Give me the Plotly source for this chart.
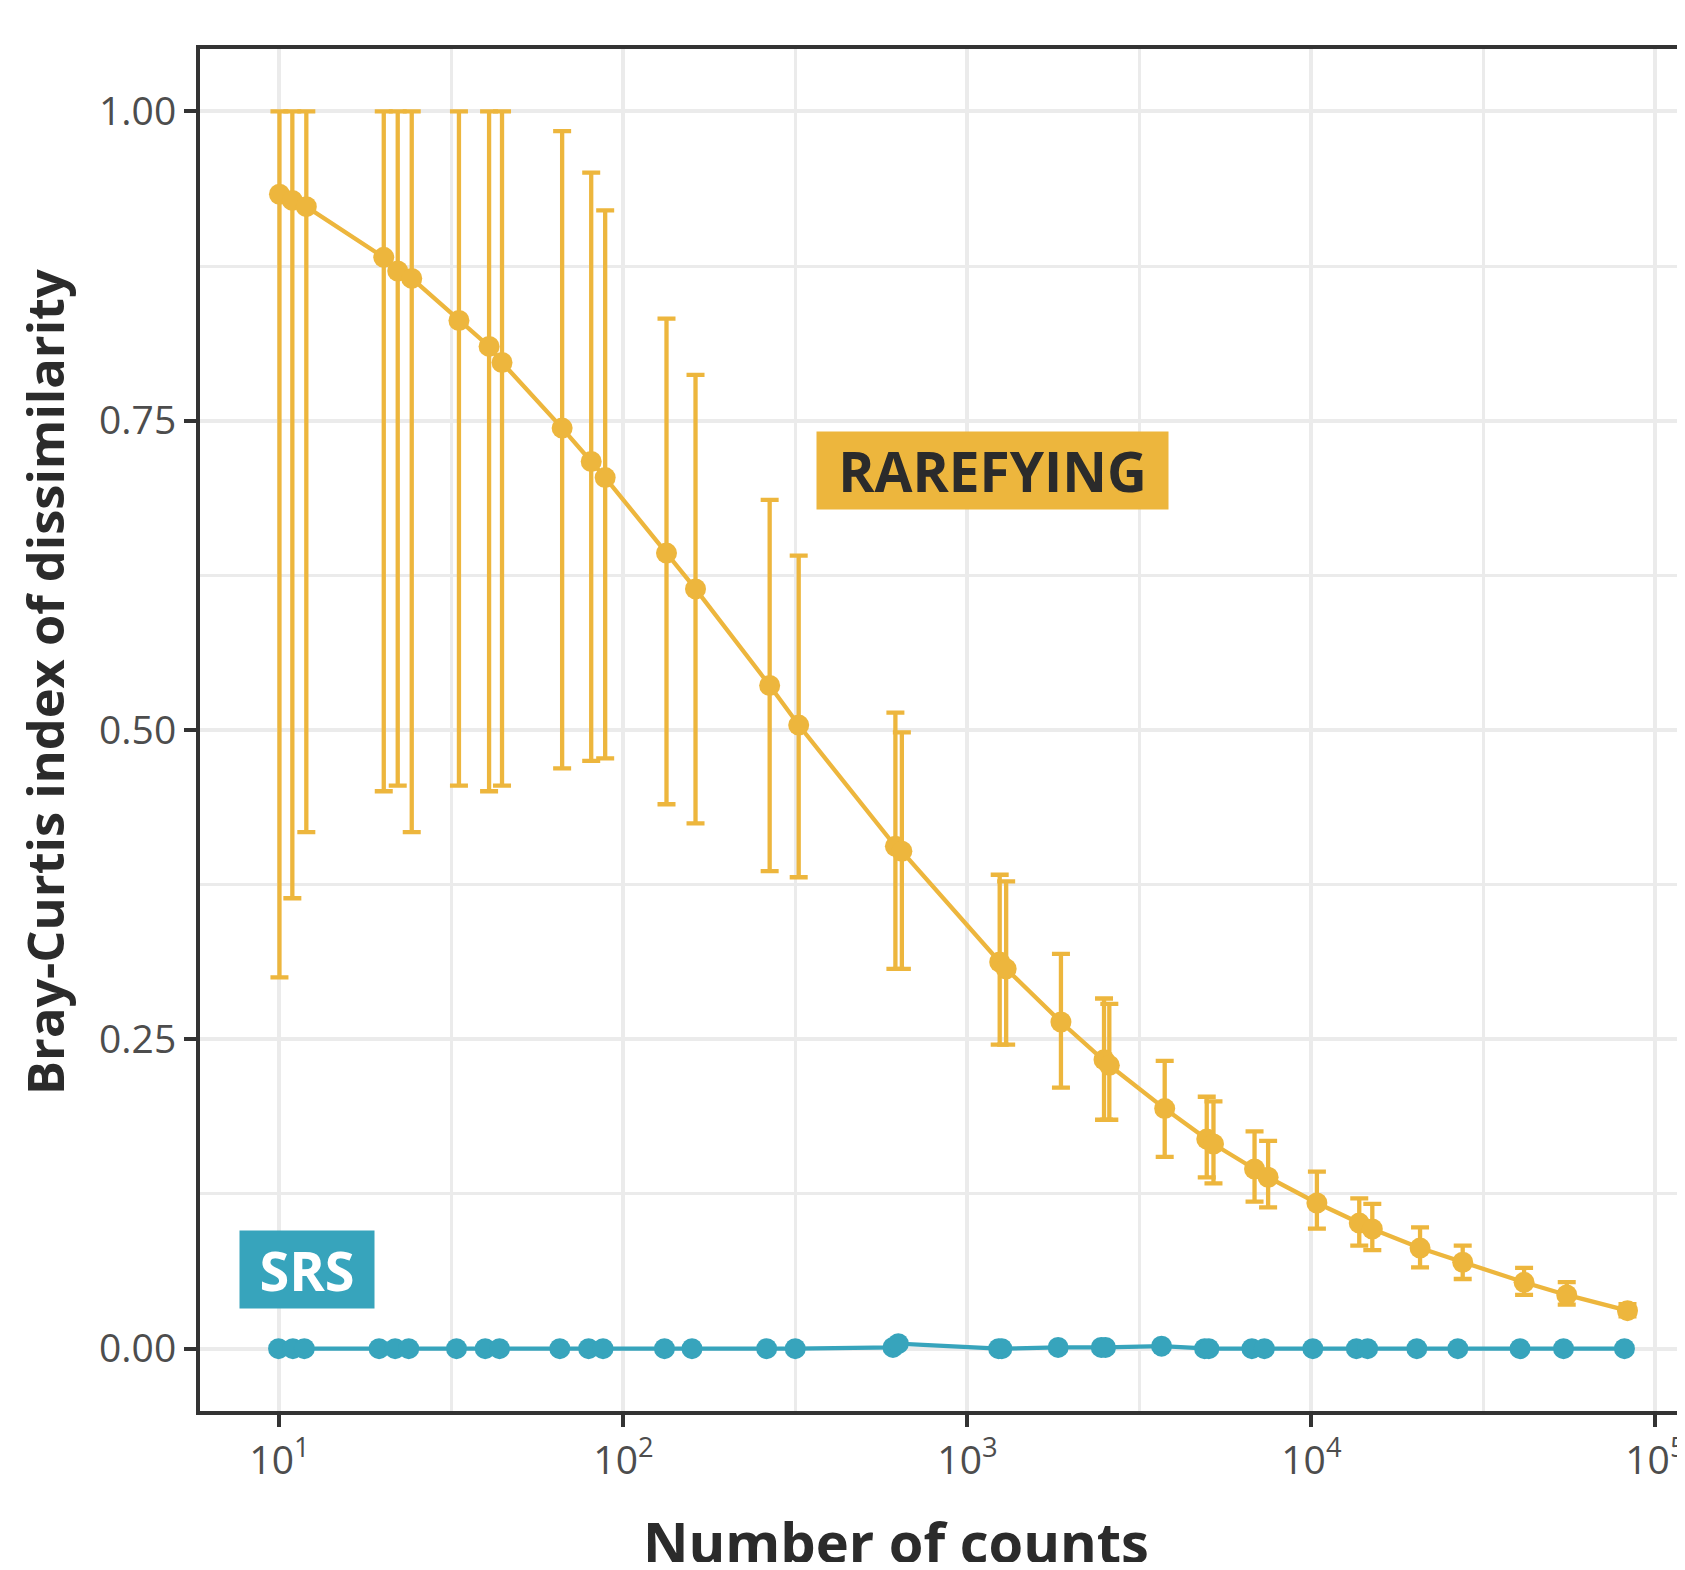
import plotly.graph_objects as go

# ---- data ----
rare_counts = [10.0, 10.9, 11.97, 20.1, 22.07, 24.24, 33.25, 40.68, 44.36, 66.34, 80.59, 88.49,
               133.4, 162.0, 266.1, 323.2, 617.4, 644.7, 1241, 1296, 1870, 2495, 2585, 3745,
               4962, 5191, 6833, 7483, 10373, 13774, 15031, 20690, 27529, 41514, 55234, 82945]
rare_mean = [0.933, 0.928, 0.923, 0.882, 0.871, 0.865, 0.831, 0.810, 0.797, 0.744, 0.717, 0.704,
             0.643, 0.614, 0.536, 0.504, 0.406, 0.402, 0.3125, 0.307, 0.264, 0.2335, 0.229, 0.194,
             0.1694, 0.1654, 0.1452, 0.1385, 0.1177, 0.1015, 0.0967, 0.0813, 0.0698, 0.0536, 0.0434, 0.0307]
rare_upper = [1.0, 1.0, 1.0, 1.0, 1.0, 1.0, 1.0, 1.0, 1.0, 0.984, 0.9505, 0.920,
              0.8325, 0.787, 0.686, 0.641, 0.514, 0.498, 0.383, 0.3776, 0.319, 0.283, 0.2786, 0.2326,
              0.2036, 0.1998, 0.1756, 0.168, 0.143, 0.1215, 0.117, 0.098, 0.0832, 0.0652, 0.0537, 0.036]
rare_lower = [0.300, 0.364, 0.4175, 0.4505, 0.455, 0.4175, 0.455, 0.4505, 0.455, 0.469, 0.475, 0.477,
              0.440, 0.4245, 0.386, 0.381, 0.307, 0.307, 0.2457, 0.2457, 0.211, 0.185, 0.185, 0.155,
              0.1385, 0.1336, 0.1188, 0.1142, 0.097, 0.0832, 0.0797, 0.0657, 0.0563, 0.0434, 0.0355, 0.026]

srs_counts = [9.94, 10.94, 11.81, 19.48, 21.69, 23.76, 32.71, 39.64, 43.62, 65.31, 79.2, 87.23,
              131.6, 158.2, 260.8, 315.8, 607.4, 629.7, 1232, 1259, 1835, 2449, 2520, 3667,
              4891, 5033, 6713, 7298, 10094, 13508, 14567, 20245, 26645, 40403, 54056, 81283]
srs_mean = [0, 0, 0, 0, 0, 0, 0, 0, 0, 0, 0, 0,
            0, 0, 0, 0, 0.001, 0.004, 0, 0, 0.001, 0.001, 0.001, 0.002,
            0, 0, 0, 0, 0, 0, 0, 0, 0, 0, 0, 0]

x_tickvals = [10, 100, 1000, 10000, 100000]
x_ticktext = ["10<sup>1</sup>", "10<sup>2</sup>", "10<sup>3</sup>", "10<sup>4</sup>", "10<sup>5</sup>"]
x_minorvals = [31.623, 316.23, 3162.3, 31623]
y_tickvals = [0, 0.25, 0.5, 0.75, 1.0]
y_ticktext = ["0.00", "0.25", "0.50", "0.75", "1.00"]
y_minorvals = [0.125, 0.375, 0.625, 0.875]

GOLD = "#EDB63D"
TEAL = "#37A4BC"
DARK = "#333333"
GRID = "#EBEBEB"

err_plus = [u - m for u, m in zip(rare_upper, rare_mean)]
err_minus = [m - l for m, l in zip(rare_mean, rare_lower)]

fig = go.Figure()
fig.add_trace(go.Scatter(
    x=rare_counts, y=rare_mean, mode="lines+markers",
    line=dict(color=GOLD, width=4.3),
    marker=dict(color=GOLD, size=21),
    error_y=dict(type="data", array=err_plus, arrayminus=err_minus,
                 color=GOLD, thickness=4.3, width=9),
    showlegend=False))
fig.add_trace(go.Scatter(
    x=srs_counts, y=srs_mean, mode="lines+markers",
    line=dict(color=TEAL, width=4.3),
    marker=dict(color=TEAL, size=21),
    showlegend=False))

tickfont = dict(family="Open Sans", size=39, color="#4D4D4D")

# page has an 8px body margin: figure is sized/positioned to compensate
fig.update_layout(
    width=1677, height=1554,
    margin=dict(l=192, r=0, t=41, b=151, pad=0),
    paper_bgcolor="white", plot_bgcolor="white",
    font=dict(family="Open Sans"),
    xaxis=dict(type="log", range=[0.769, 5.086],
               tickvals=x_tickvals, ticktext=x_ticktext, tickfont=tickfont,
               ticklabeloverflow="allow",
               ticks="outside", ticklen=12, tickwidth=4, tickcolor=DARK,
               showline=True, linecolor=DARK, linewidth=4, mirror=True,
               showgrid=True, gridcolor=GRID, gridwidth=4, zeroline=False,
               minor=dict(tickvals=x_minorvals, showgrid=True, gridcolor=GRID,
                          gridwidth=2.5, ticks="")),
    yaxis=dict(range=[-0.0504, 1.0504],
               tickvals=y_tickvals, ticktext=y_ticktext, tickfont=tickfont,
               ticks="outside", ticklen=12, tickwidth=4, tickcolor=DARK,
               showline=True, linecolor=DARK, linewidth=4, mirror=False,
               showgrid=True, gridcolor=GRID, gridwidth=4, zeroline=False,
               minor=dict(tickvals=y_minorvals, showgrid=True, gridcolor=GRID,
                          gridwidth=2.5, ticks="")),
)

# labels inside the panel
fig.add_annotation(x=3.073, y=0.710, xref="x", yref="y", text="<b>RAREFYING</b>",
                   showarrow=False, bgcolor=GOLD, width=351, height=77, borderpad=0,
                   font=dict(family="Open Sans", size=55, color="#2B2B2B"))
fig.add_annotation(x=1.0802, y=0.064, xref="x", yref="y", text="<b>SRS</b>",
                   showarrow=False, bgcolor=TEAL, width=134, height=77, borderpad=0,
                   font=dict(family="Open Sans", size=54, color="white"))

# axis titles
fig.add_annotation(x=0.4685, y=-0.0954, xref="paper", yref="paper",
                   text="<b>Number of counts</b>", showarrow=False,
                   xanchor="center", yanchor="middle",
                   font=dict(family="Open Sans", size=56, color="#2B2B2B"))
fig.add_annotation(x=-0.1051, y=0.5352, xref="paper", yref="paper",
                   text="<b>Bray-Curtis index of dissimilarity</b>", showarrow=False,
                   textangle=-90, xanchor="center", yanchor="middle",
                   font=dict(family="Open Sans", size=50.5, color="#2B2B2B"))

fig.write_html("out.html")
